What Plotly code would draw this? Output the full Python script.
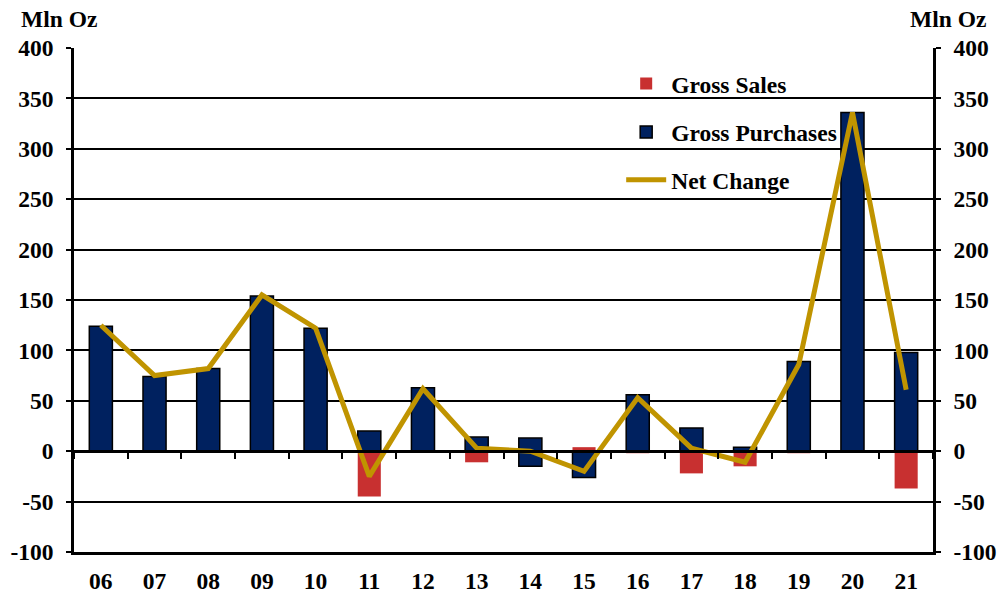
import plotly.graph_objects as go

years = ['06', '07', '08', '09', '10', '11', '12', '13', '14', '15', '16', '17', '18', '19', '20', '21']
gross_purchases = [124, 74, 82, 154, 122, 20, 63, 14, 13, None, 56, 23, 4, 89, 336, 98]
gross_purchases_below = [None, None, None, None, None, None, None, None, -15, -26, None, None, None, None, None, None]
gross_sales = [None, None, None, None, None, -45, -1, -11, None, 4, -2, -22, -15, -2, -1, -37]
net_change = [125, 75, 82, 155, 122, -25, 62, 3, 0, -20, 53, 3, -11, 86, 336, 61]
y_ticks = [-100, -50, 0, 50, 100, 150, 200, 250, 300, 350, 400]

NAVY = '#00215F'
RED = '#C83030'
GOLD = '#C09400'
FONT = 'Liberation Serif'
FS = 23.5

fig = go.Figure()
fig.add_trace(go.Bar(x=years, y=gross_sales, name='Gross Sales', marker=dict(color=RED, line=dict(width=0)),
                     legend='legend'))
fig.add_trace(go.Bar(x=years, y=gross_purchases, name='Gross Purchases',
                     marker=dict(color=NAVY, line=dict(color='black', width=1.5)), legend='legend2'))
fig.add_trace(go.Bar(x=years, y=gross_purchases_below, name='Gross Purchases', showlegend=False,
                     marker=dict(color=NAVY, line=dict(color='black', width=1.5)), legend='legend2'))
fig.add_trace(go.Scatter(x=years, y=net_change, name='Net Change', mode='lines',
                         line=dict(color=GOLD, width=5), xaxis='x2', yaxis='y2', legend='legend3'))

tickfont = dict(family=FONT, size=FS, color='black', weight='bold')
yax = dict(range=[-100, 400], tickvals=y_ticks, ticktext=[str(v) for v in y_ticks], tickfont=tickfont,
           ticks='outside', ticklen=5, tickwidth=2, automargin=False,
           tickcolor='black', showline=True, linecolor='black', linewidth=2.5)

legend_common = dict(bgcolor='rgba(0,0,0,0)', font=dict(family=FONT, size=FS, color='black', weight='bold'),
                     xanchor='left', yanchor='middle', x=0.637, itemwidth=40)

fig.update_layout(
    width=1000, height=596,
    margin=dict(l=74, r=67, t=48, b=44),
    paper_bgcolor='white', plot_bgcolor='white',
    barmode='relative', bargap=0.57,
    xaxis=dict(type='category', range=[-0.5, 15.5], tickfont=tickfont, showline=True, linecolor='black',
               linewidth=2.5, showgrid=False, ticks='', ticklabelstandoff=6, automargin=False),
    xaxis2=dict(type='category', range=[-0.5, 15.5], overlaying='x', anchor='free', position=0.2,
                showline=True, linecolor='black', linewidth=2.5, tickson='boundaries', ticks='outside',
                ticklen=6, tickwidth=2, tickcolor='black', showticklabels=False, showgrid=False,
                automargin=False),
    yaxis=dict(**yax, showgrid=True, gridcolor='black', gridwidth=1.5, zeroline=False, ticklabelstandoff=8),
    yaxis2=dict(**yax, overlaying='y', side='right', anchor='x', showgrid=False, zeroline=False,
                ticklabelstandoff=8),
    legend=dict(**legend_common, y=0.929),
    legend2=dict(**legend_common, y=0.833),
    legend3=dict(**legend_common, y=0.738),
    annotations=[
        dict(text='Mln Oz', xref='paper', yref='paper', x=-0.0635, y=1.058, xanchor='left', yanchor='middle',
             showarrow=False, font=dict(family=FONT, size=FS, color='black', weight='bold')),
        dict(text='Mln Oz', xref='paper', yref='paper', x=1.064, y=1.058, xanchor='right', yanchor='middle',
             showarrow=False, font=dict(family=FONT, size=FS, color='black', weight='bold')),
    ],
    showlegend=True,
)

fig.write_html('out.html', config={'displayModeBar': False},
               post_script="document.body.style.margin='0';")
